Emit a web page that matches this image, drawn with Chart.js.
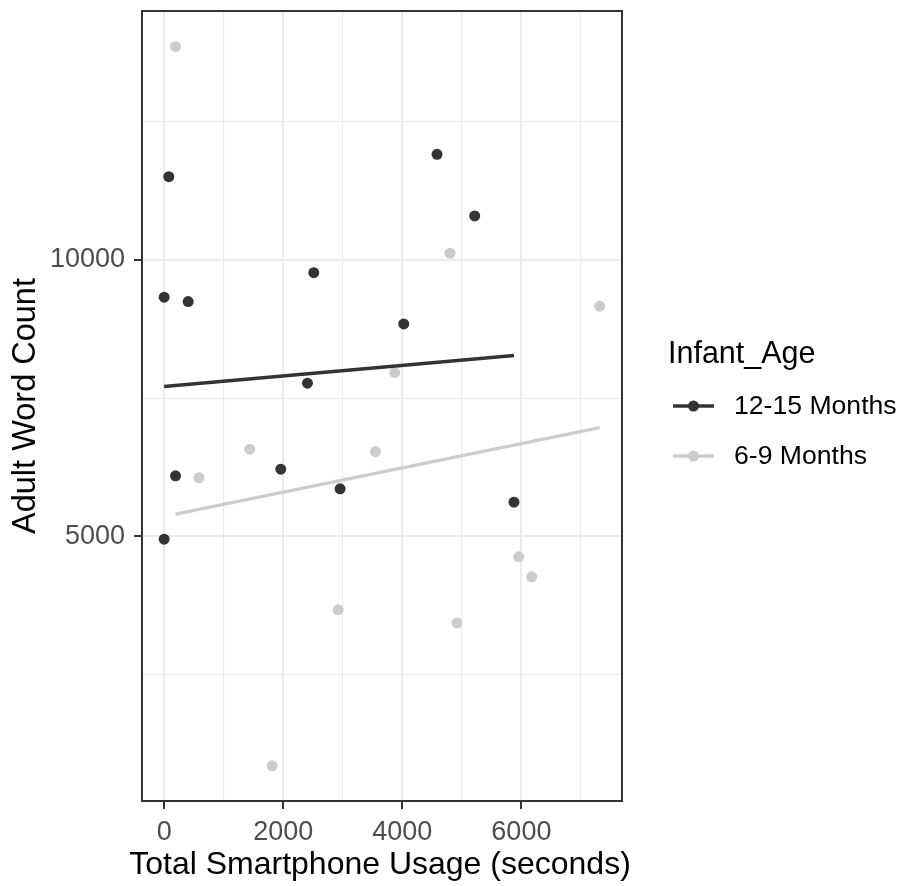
<!DOCTYPE html>
<html><head><meta charset="utf-8">
<script src="https://cdn.jsdelivr.net/npm/chart.js@4"></script>
<style>html,body{margin:0;padding:0;background:#fff}#wrap{width:900px;height:886px;position:relative}</style>
</head><body><div id="wrap"><canvas id="c" width="900" height="886"></canvas></div>
<script>
const seriesNames = ['12-15 Months', '6-9 Months'];
const olderX = [78, 4583, 0, 403, 2513, 2407, 5216, 4024, 191, 1959, 2955, 0, 5876];
const olderY = [11505, 11910, 9326, 9246, 9770, 7772, 10795, 8843, 6096, 6217, 5861, 4952, 5621];
const youngerX = [191, 4801, 7315, 3873, 587, 1438, 3549, 5955, 6173, 2921, 1813, 4919];
const youngerY = [13855, 10121, 9163, 7963, 6060, 6579, 6535, 4632, 4271, 3674, 855, 3434];
const olderFitX = [0, 5876];
const olderFitY = [7710, 8274];
const youngerFitX = [191, 7315];
const youngerFitY = [5404, 6968];
const xTickValues = [0, 1000, 2000, 3000, 4000, 5000, 6000, 7000];
const xTickLabels = ['0', '', '2000', '', '4000', '', '6000', ''];
const yTickValues = [2500, 5000, 7500, 10000, 12500];
const yTickLabels = ['', '5000', '', '10000', ''];
const xRange = [-372, 7690];
const yRange = [218, 14500];
const xTitle = 'Total Smartphone Usage (seconds)';
const yTitle = 'Adult Word Count';
const legendTitle = 'Infant_Age';

const FONT = "'Liberation Sans', Arial, sans-serif";
const DARK = '#333333';
const LIGHT = '#CCCCCC';
const seriesColors = [DARK, LIGHT];
const toPts = (xs, ys) => xs.map((x, i) => ({x: x, y: ys[i]}));

function gridOpts(values, labels) {
  const isMajor = c => c.tick && labels[values.indexOf(c.tick.value)] !== '';
  return {
    color: '#EBEBEB',
    lineWidth: c => isMajor(c) ? 2 : 1.1,
    drawTicks: true,
    tickLength: 8,
    tickWidth: 2,
    tickColor: c => isMajor(c) ? DARK : 'rgba(0,0,0,0)'
  };
}

const panelBorder = {
  id: 'panelBorder',
  afterDatasetsDraw(chart) {
    const a = chart.chartArea, ctx = chart.ctx;
    ctx.save();
    ctx.strokeStyle = DARK;
    ctx.lineWidth = 2;
    ctx.strokeRect(a.left, a.top, a.right - a.left, a.bottom - a.top);
    ctx.restore();
  }
};

const ggExtras = {
  id: 'ggExtras',
  afterDraw(chart) {
    const ctx = chart.ctx;
    const a = chart.chartArea;
    ctx.save();
    // x axis title (drawn without width compression)
    ctx.fillStyle = '#000';
    ctx.font = '32px ' + FONT;
    ctx.textAlign = 'center';
    ctx.textBaseline = 'middle';
    ctx.fillText(xTitle, (a.left + a.right) / 2 - 2, 865);
    // legend
    ctx.font = '30.5px ' + FONT;
    ctx.textAlign = 'left';
    ctx.textBaseline = 'alphabetic';
    ctx.fillText(legendTitle, 668, 363);
    seriesNames.forEach((name, i) => {
      const y = 406 + i * 50;
      const col = seriesColors[i];
      ctx.strokeStyle = col;
      ctx.lineWidth = 3.5;
      ctx.beginPath(); ctx.moveTo(673, y); ctx.lineTo(714, y); ctx.stroke();
      ctx.fillStyle = col;
      ctx.beginPath(); ctx.arc(693.5, y, 5.5, 0, Math.PI * 2); ctx.fill();
      ctx.fillStyle = '#000';
      ctx.font = '26.6px ' + FONT;
      ctx.textBaseline = 'middle';
      ctx.fillText(name, 734, y + 1);
    });
    ctx.restore();
  }
};

new Chart(document.getElementById('c'), {
  type: 'scatter',
  data: {
    datasets: [
      {label: 'fit ' + seriesNames[0], data: toPts(olderFitX, olderFitY), showLine: true,
       borderColor: DARK, borderWidth: 3.5, pointRadius: 0, fill: false, tension: 0},
      {label: 'fit ' + seriesNames[1], data: toPts(youngerFitX, youngerFitY), showLine: true,
       borderColor: LIGHT, borderWidth: 3.5, pointRadius: 0, fill: false, tension: 0},
      {label: seriesNames[0], data: toPts(olderX, olderY), showLine: false,
       pointRadius: 5.5, pointBorderWidth: 0, pointBackgroundColor: DARK, backgroundColor: DARK, borderColor: DARK},
      {label: seriesNames[1], data: toPts(youngerX, youngerY), showLine: false,
       pointRadius: 5.5, pointBorderWidth: 0, pointBackgroundColor: LIGHT, backgroundColor: LIGHT, borderColor: LIGHT}
    ]
  },
  options: {
    responsive: false,
    animation: false,
    events: [],
    layout: {padding: {top: 11, right: 278, bottom: 0, left: 0}},
    plugins: {legend: {display: false}, tooltip: {enabled: false}},
    scales: {
      x: {
        type: 'linear', position: 'bottom', min: xRange[0], max: xRange[1],
        afterBuildTicks: s => { s.ticks = xTickValues.map(v => ({value: v})); },
        afterFit: s => { s.height = 85; s.paddingLeft = 0; s.paddingRight = 0; },
        ticks: {autoSkip: false, maxRotation: 0, minRotation: 0, padding: 7, color: '#4D4D4D',
                font: {family: FONT, size: 27},
                callback: v => { const k = xTickValues.indexOf(v); return k < 0 ? '' : xTickLabels[k]; }},
        grid: gridOpts(xTickValues, xTickLabels),
        border: {display: false},
        title: {display: false}
      },
      y: {
        type: 'linear', position: 'left', min: yRange[0], max: yRange[1],
        afterBuildTicks: s => { s.ticks = yTickValues.map(v => ({value: v})); },
        afterFit: s => { s.width = 142; s.paddingTop = 0; s.paddingBottom = 0; },
        ticks: {autoSkip: false, padding: 9, color: '#4D4D4D',
                font: {family: FONT, size: 27},
                callback: v => { const k = yTickValues.indexOf(v); return k < 0 ? '' : yTickLabels[k]; }},
        grid: gridOpts(yTickValues, yTickLabels),
        border: {display: false},
        title: {display: true, text: yTitle, color: '#000',
                font: {family: FONT, size: 32.5}, padding: {top: 6.5, bottom: 0}}
      }
    }
  },
  plugins: [panelBorder, ggExtras]
});
</script>
</body></html>
